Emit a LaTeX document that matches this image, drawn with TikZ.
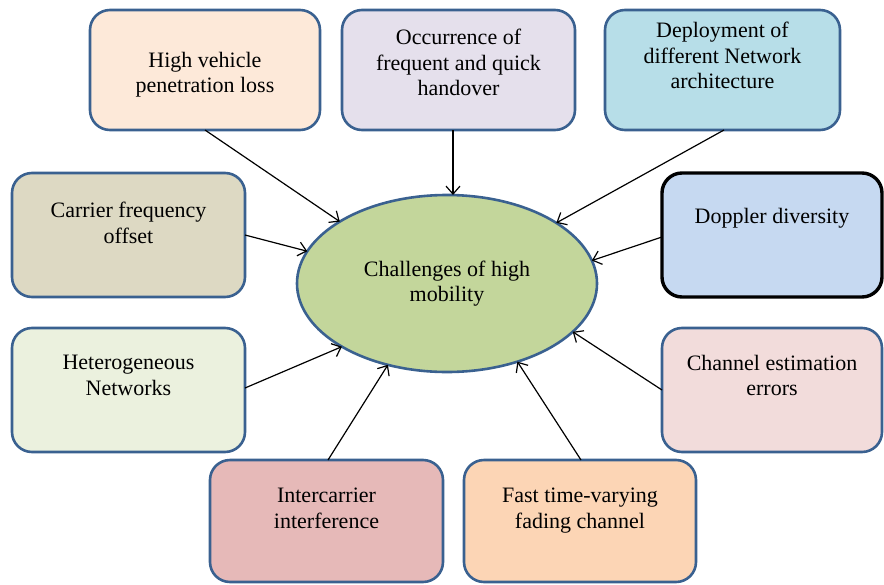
\documentclass[tikz,border=0pt]{standalone}
\usepackage{fontspec}
\setmainfont{Liberation Serif}
\usetikzlibrary{arrows.meta,shapes.geometric}

\definecolor{outline}{HTML}{3A6190}
\definecolor{fillA}{HTML}{FDE9D9}
\definecolor{fillB}{HTML}{E5E0EC}
\definecolor{fillC}{HTML}{B7DEE8}
\definecolor{fillD}{HTML}{DDD9C3}
\definecolor{fillE}{HTML}{C6D9F1}
\definecolor{fillF}{HTML}{EBF1DE}
\definecolor{fillG}{HTML}{F2DCDB}
\definecolor{fillH}{HTML}{E6B9B8}
\definecolor{fillI}{HTML}{FCD5B5}
\definecolor{fillCore}{HTML}{C3D69B}

\tikzset{
  box/.style={draw=outline, line width=2.6pt, rounded corners=20pt,
    inner sep=0pt, outer sep=0pt},
  lbl/.style={anchor=north, align=center, inner sep=0pt,
    font=\fontsize{22}{25.5}\selectfont},
  core/.style={ellipse, draw=outline, line width=2.6pt, fill=fillCore,
    minimum width=300pt, minimum height=177pt, inner sep=0pt, outer sep=0pt,
    align=center, font=\fontsize{22}{25.5}\selectfont},
  arr/.style={line width=1.2pt, -{Straight Barb[length=8pt,width=14pt]}}
}

\begin{document}
\begin{tikzpicture}[x=1pt,y=-1pt]
\useasboundingbox (0,0) rectangle (884,584);

% central challenge
\node[core] (ch) at (447,283.5) {Challenges of high\\mobility};

% surrounding factors
\node[box, fill=fillA, minimum width=230pt, minimum height=120pt] (b1) at (205,70) {};
\node[box, fill=fillB, minimum width=233pt, minimum height=120pt] (b2) at (458.5,70) {};
\node[box, fill=fillC, minimum width=235pt, minimum height=120pt] (b3) at (722.5,70) {};
\node[box, fill=fillD, minimum width=233pt, minimum height=124pt] (b4) at (128.5,235) {};
\node[box, fill=fillE, draw=black, line width=3.4pt, minimum width=220pt, minimum height=124pt] (b5) at (772,235) {};
\node[box, fill=fillF, minimum width=233pt, minimum height=124pt] (b6) at (128.5,390) {};
\node[box, fill=fillG, minimum width=220pt, minimum height=124pt] (b7) at (772,390) {};
\node[box, fill=fillH, minimum width=233pt, minimum height=122pt] (b8) at (326.5,521) {};
\node[box, fill=fillI, minimum width=232pt, minimum height=122pt] (b9) at (580,521) {};

% factor texts
\node[lbl] (t1) at ([yshift=-42pt]b1.north) {High vehicle\\penetration loss};
\node[lbl] (t2) at ([yshift=-19pt]b2.north) {Occurrence of\\frequent and quick\\handover};
\node[lbl] (t3) at ([yshift=-12pt]b3.north) {Deployment of\\different Network\\architecture};
\node[lbl] (t4) at ([yshift=-29pt]b4.north) {Carrier frequency\\offset};
\node[lbl] (t5) at ([yshift=-35pt]b5.north) {Doppler diversity};
\node[lbl] (t6) at ([yshift=-27pt]b6.north) {Heterogeneous\\Networks};
\node[lbl] (t7) at ([yshift=-27pt]b7.north) {Channel estimation\\errors};
\node[lbl] (t8) at ([yshift=-28pt]b8.north) {Intercarrier\\interference};
\node[lbl] (t9) at ([yshift=-28pt]b9.north) {Fast time-varying\\fading channel};

% connectors
\draw[arr] (b1.south) -- (ch.150.1);
\draw[arr] ([xshift=-5.5pt]b2.south) -- ([xshift=6pt]ch.north);
\draw[arr] ([xshift=1.5pt]b3.south) -- (ch.29.4);
\draw[arr] (b4.east) -- (ch.167.1);
\draw[arr] ([yshift=-2pt]b5.west) -- (ch.9.4);
\draw[arr] ([yshift=2pt]b6.east) -- (ch.211.4);
\draw[arr] ([xshift=1.5pt]b8.north) -- (ch.234.1);
\draw[arr] ([xshift=1pt]b9.north) -- (ch.312.2);
\draw[arr] (b7.west) -- (ch.339.9);
\end{tikzpicture}
\end{document}
